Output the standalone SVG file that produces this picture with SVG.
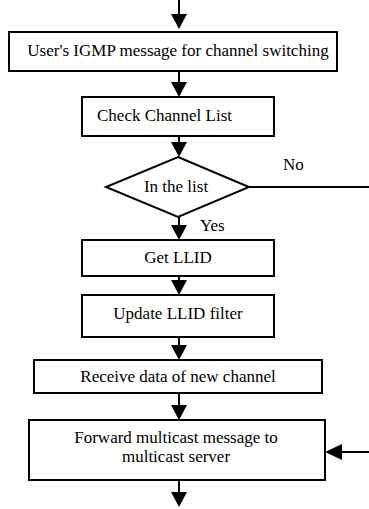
<svg xmlns="http://www.w3.org/2000/svg" width="369" height="509" viewBox="0 0 369 509">
  <style>
    .box { fill: #fff; stroke: #000; stroke-width: 2; }
    .line { fill: none; stroke: #000; stroke-width: 2; }
    .head { fill: #000; stroke: none; }
    .lbl { font-family: "Liberation Serif", "Times New Roman", Times, serif; font-size: 17px; fill: #000; }
    .mid { text-anchor: middle; }
  </style>
  <defs>
    <!-- solid triangular arrowhead, tip at the origin, pointing down -->
    <path id="down" class="head" d="M0,0 L-8,-15 L8,-15 Z"/>
  </defs>

  <rect width="369" height="509" fill="#fff"/>

  <g id="connectors">
    <line class="line" x1="179" y1="0" x2="179" y2="16"/>
    <use href="#down" x="179" y="29"/>
    <line class="line" x1="179" y1="72" x2="179" y2="84"/>
    <use href="#down" x="179" y="97"/>
    <line class="line" x1="179" y1="136" x2="179" y2="144"/>
    <use href="#down" x="179" y="157"/>
    <line class="line" x1="179" y1="217" x2="179" y2="227"/>
    <use href="#down" x="179" y="240"/>
    <line class="line" x1="179" y1="276" x2="179" y2="282"/>
    <use href="#down" x="179" y="295"/>
    <line class="line" x1="179" y1="337" x2="179" y2="347"/>
    <use href="#down" x="179" y="360"/>
    <line class="line" x1="179" y1="393" x2="179" y2="407"/>
    <use href="#down" x="179" y="420"/>
    <line class="line" x1="179" y1="480" x2="179" y2="494"/>
    <use href="#down" x="179" y="507"/>
    <!-- "No" branch leaves to the right; return arrow enters from the right -->
    <line class="line" x1="249" y1="187" x2="369" y2="187"/>
    <text class="lbl" x="283" y="170">No</text>
    <text class="lbl" x="200" y="231">Yes</text>
    <line class="line" x1="340" y1="452" x2="369" y2="452"/>
    <path class="head" d="M325,452 L342,444 L342,460 Z"/>
  </g>

  <g id="igmp-message">
    <rect class="box" x="9" y="32" width="328" height="39"/>
    <text class="lbl mid" x="178" y="56">User's IGMP message for channel switching</text>
  </g>

  <g id="check-list">
    <rect class="box" x="82" y="97" width="192" height="39"/>
    <text class="lbl" x="97" y="121">Check Channel List</text>
  </g>

  <g id="in-list">
    <path class="box" d="M178,157 L249,187 L178,217 L106,187 Z"/>
    <text class="lbl mid" x="176" y="192">In the list</text>
  </g>

  <g id="get-llid">
    <rect class="box" x="82" y="240" width="192" height="36"/>
    <text class="lbl mid" x="178" y="263">Get LLID</text>
  </g>

  <g id="update-filter">
    <rect class="box" x="82" y="295" width="192" height="42"/>
    <text class="lbl mid" x="178" y="319">Update LLID filter</text>
  </g>

  <g id="receive-data">
    <rect class="box" x="34" y="360" width="288" height="33"/>
    <text class="lbl mid" x="178" y="382">Receive data of new channel</text>
  </g>

  <g id="forward-message">
    <rect class="box" x="29" y="420" width="296" height="60"/>
    <text class="lbl mid" x="176" y="443">Forward multicast message to</text>
    <text class="lbl mid" x="176" y="462">multicast server</text>
  </g>
</svg>
